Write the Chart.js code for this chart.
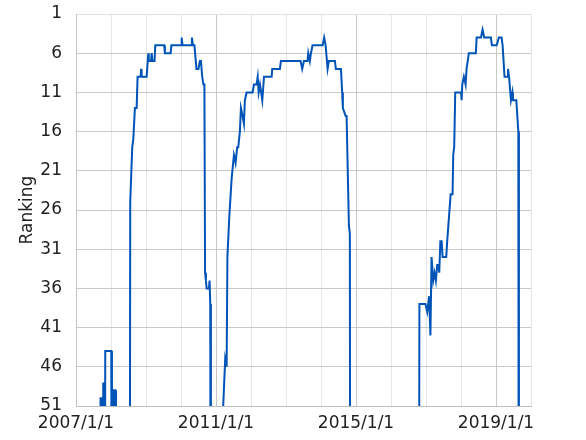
<!DOCTYPE html>
<html>
<head>
<meta charset="utf-8">
<script src="https://cdn.jsdelivr.net/npm/chart.js@4.4.1/dist/chart.umd.min.js"></script>
<style>
html,body{margin:0;padding:0;background:#fff;}
#wrap{width:586px;height:440px;}
</style>
</head>
<body>
<div id="wrap"><canvas id="c" width="586" height="440"></canvas></div>
<script>
// Weekly ranking snapshots (100 = outside the ranking, off the chart)
const dates = [
  '2007-09-07','2007-09-14','2007-09-21','2007-09-28','2007-10-05','2007-10-12','2007-10-19','2007-10-26',
  '2007-11-02','2008-01-04','2008-01-11','2008-01-25','2008-02-01','2008-02-15','2008-02-22',
  '2008-07-13','2008-07-20','2008-08-10','2008-08-21','2008-09-07','2008-09-25','2008-10-05','2008-11-06',
  '2008-11-11','2008-11-16','2009-01-08','2009-01-25','2009-01-30','2009-02-22','2009-03-01','2009-03-09',
  '2009-03-31','2009-04-08','2009-07-10','2009-07-17','2009-09-15','2009-09-23','2010-01-03','2010-01-08',
  '2010-01-17','2010-04-17','2010-04-25','2010-05-05','2010-05-21','2010-06-11','2010-07-02','2010-07-17',
  '2010-07-28','2010-08-10','2010-08-23','2010-09-02','2010-09-09','2010-09-18','2010-09-25','2010-10-19',
  '2010-10-26','2010-11-02','2010-11-09',
  '2011-03-10','2011-03-17','2011-04-07','2011-04-14','2011-04-22','2011-04-30','2011-05-19','2011-06-13',
  '2011-07-07','2011-07-24','2011-08-10','2011-08-21','2011-09-07','2011-09-18','2011-10-05','2011-10-19',
  '2011-10-29','2011-11-16','2012-01-18','2012-02-01','2012-02-28','2012-03-11','2012-03-21','2012-04-04',
  '2012-04-28','2012-05-16','2012-08-04','2012-08-10','2012-10-29','2012-11-09','2013-06-02','2013-06-19',
  '2013-07-07','2013-08-14','2013-08-21','2013-09-07','2013-09-18','2013-10-05','2014-01-18','2014-02-03',
  '2014-02-18','2014-03-11','2014-03-24','2014-05-26','2014-06-05','2014-07-28','2014-08-10','2014-08-17',
  '2014-09-15','2014-09-25','2014-10-19','2014-10-29','2014-11-03',
  '2016-10-16','2016-10-24','2016-12-26','2017-01-14','2017-02-03','2017-02-16','2017-02-28','2017-03-17',
  '2017-03-31','2017-04-14','2017-04-28','2017-05-12','2017-05-19','2017-05-31','2017-06-13','2017-06-23',
  '2017-07-31','2017-08-10','2017-08-28','2017-09-15','2017-10-05','2017-10-12','2017-10-22','2017-11-02',
  '2018-01-01','2018-01-08','2018-01-14','2018-01-31','2018-02-18','2018-02-28','2018-03-24','2018-06-05',
  '2018-06-13','2018-07-28','2018-08-14','2018-08-31','2018-11-09','2018-11-19','2019-01-08','2019-01-31',
  '2019-02-28','2019-03-11','2019-03-31','2019-04-30','2019-05-06','2019-05-17','2019-06-06','2019-06-21',
  '2019-06-27','2019-08-01','2019-08-22','2019-08-28','2019-12-31'
];
const ranks = [
  100,50,50,100,100,48,48,100,
  44,44,100,100,49,49,100,
  100,25,18,17,13,13,9,9,
  8,9,9,6,7,7,6,7,
  7,5,5,6,6,5,5,4,
  5,5,4,5,5,8,8,7,
  7,9,10,10,34,35,36,36,
  35,38,100,
  100,51,45,45,46,32,27,22,
  19,20,18,18,16,13,14,15,
  12,11,11,10,10,9,11,10,
  12,9,9,8,8,7,7,8,
  7,7,6,7,6,5,5,4,
  5,8,7,7,8,8,11,13,
  14,14,28,29,100,
  100,38,38,39,37,42,32,35,
  34,35,33,33,34,30,30,32,
  32,30,27,24,24,19,18,11,
  11,12,10,9,10,8,6,6,
  4,4,3,4,4,5,5,4,
  4,5,9,9,8,9,12,11,
  12,12,16,100,100
];
const yTicks = [1, 6, 11, 16, 21, 26, 31, 36, 41, 46, 51];
const xYears = [2007,2008,2009,2010,2011,2012,2013,2014,2015,2016,2017,2018,2019,2020];
const xLabelYears = [2007, 2011, 2015, 2019];

function toYear(s) {
  const p = s.split('-').map(Number);
  const start = Date.UTC(p[0], 0, 1), end = Date.UTC(p[0] + 1, 0, 1);
  return p[0] + (Date.UTC(p[0], p[1] - 1, p[2]) - start) / (end - start);
}
const points = dates.map((d, i) => ({ x: toYear(d), y: ranks[i] }));

const FONT = { family: "'DejaVu Sans', sans-serif", size: 17 };

new Chart(document.getElementById('c'), {
  type: 'line',
  data: {
    datasets: [{
      data: points,
      borderColor: '#0054b8',
      borderWidth: 2,
      pointRadius: 0,
      tension: 0,
      fill: false
    }]
  },
  options: {
    responsive: false,
    animation: false,
    layout: { padding: { left: 0, right: 55, top: 14, bottom: 0 } },
    plugins: { legend: { display: false }, tooltip: { enabled: false } },
    scales: {
      x: {
        type: 'linear',
        min: 2007,
        max: 2020,
        afterBuildTicks: s => { s.ticks = xYears.map(v => ({ value: v })); },
        afterFit: s => { s.height = 34; s.paddingLeft = 0; s.paddingRight = 0; },
        ticks: {
          autoSkip: false,
          maxRotation: 0,
          padding: 7,
          color: '#222',
          font: FONT,
          callback: v => xLabelYears.includes(v) ? v + '/1/1' : ''
        },
        grid: {
          drawTicks: false,
          color: c => ((c.tick && (c.tick.value - 2007) % 4 === 0) ? '#c8c8c8' : '#e6e6e6'),
          lineWidth: 1
        },
        border: { display: true, color: '#bdbdbd', width: 1 }
      },
      y: {
        type: 'linear',
        reverse: true,
        min: 1,
        max: 51,
        afterBuildTicks: s => { s.ticks = yTicks.map(v => ({ value: v })); },
        afterFit: s => { s.width = 76; s.paddingTop = 0; s.paddingBottom = 0; },
        ticks: { padding: 14, color: '#222', font: FONT },
        grid: {
          drawTicks: false,
          color: c => ((c.tick && c.tick.value === 1) ? '#e0e0e0' : '#c8c8c8'),
          lineWidth: 1
        },
        border: { display: true, color: '#c4c4c4', width: 1 },
        title: {
          display: true,
          text: 'Ranking',
          color: '#222',
          font: FONT,
          padding: { top: 17, bottom: 0 }
        }
      }
    }
  }
});
</script>
</body>
</html>
